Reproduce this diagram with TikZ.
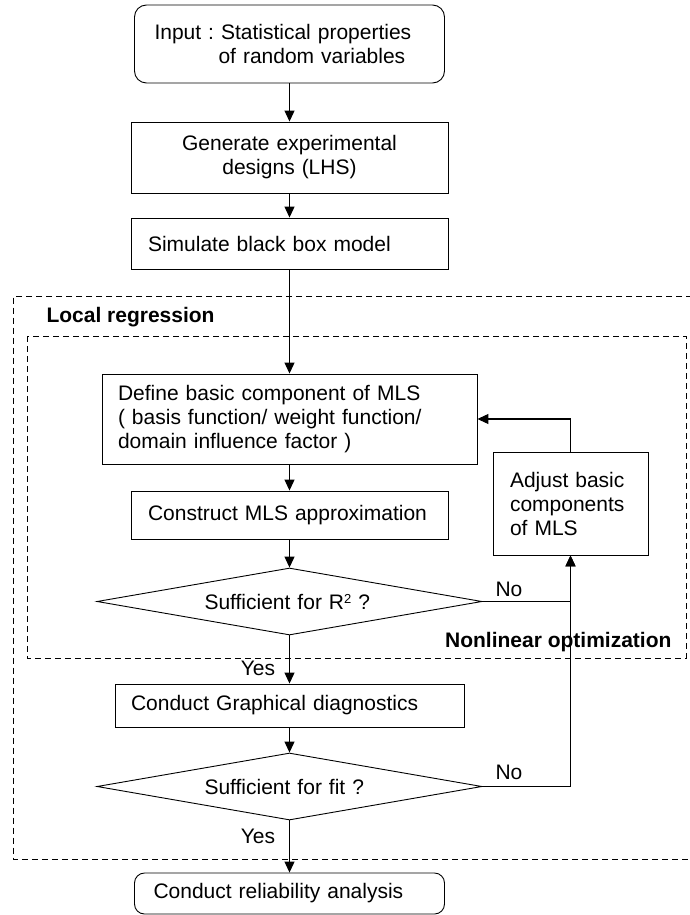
\documentclass[tikz,border=0pt]{standalone}
\usepackage{fontspec}
\setmainfont{Liberation Sans}
\usetikzlibrary{shapes.geometric,arrows.meta}
\frenchspacing
\begin{document}
\frenchspacing
\begin{tikzpicture}[x=1pt,y=-1pt,
  font=\fontsize{21}{24}\selectfont,
  procbox/.style={draw, line width=0.9pt, inner ysep=0pt, align=left},
  decision/.style={diamond, draw, line width=0.9pt, aspect=5.75, minimum width=385pt,
    minimum height=67pt, inner sep=0pt, text width=170pt, align=left},
  arr/.style={line width=1.1pt, -{Triangle[length=11pt,width=10pt]}},
  dashbox/.style={line width=0.9pt, dash pattern=on 6pt off 4pt},
  boldlabel/.style={font={\fontsize{21}{24}\selectfont\bfseries}}]
\useasboundingbox (0,0) rectangle (690,915);

% dashed regions
\draw[dashbox] (692,296) -- (13.5,296) -- (13.5,859) -- (692,859);
\draw[dashbox] (27,336) rectangle (686,658);
\node[boldlabel, anchor=west] (lr) at (43,317) {Local regression};

% main column
\node[procbox, rounded corners=12pt, text width=270pt, inner xsep=20pt, minimum height=78pt] (input) at (289.5,44)
  {Input : Statistical properties\\\hspace*{64pt}of random variables};
\node[procbox, align=center, text width=283pt, inner xsep=17pt, minimum height=71pt] (gen) at (289.5,157.5)
  {Generate experimental\\designs (LHS)};
\node[procbox, text width=283pt, inner xsep=17pt, minimum height=51pt] (sim) at (289.5,243.5)
  {Simulate black box model};
\node[procbox, text width=343pt, inner xsep=16pt, minimum height=90pt] (define) at (289.5,419)
  {Define basic component of MLS\\( basis function/ weight function/\\domain influence factor )};
\node[procbox, text width=283pt, inner xsep=17pt, minimum height=48pt] (cons) at (289.5,515)
  {Construct MLS approximation};
\node[decision] (d1) at (289.5,601.5) {Sufficient for R\raisebox{6pt}{\fontsize{13}{13}\selectfont 2} ?};
\node[procbox, text width=121pt, inner xsep=17pt, minimum height=103pt] (adj) at (570.5,503.5)
  {Adjust basic\\components\\of MLS};
\node[procbox, text width=317pt, inner xsep=16pt, minimum height=43pt] (graph) at (289.5,705.5)
  {Conduct Graphical diagnostics};
\node[decision] (d2) at (289.5,786.5) {Sufficient for fit ?};
\node[procbox, rounded corners=10pt, text width=272pt, inner xsep=19pt, minimum height=41pt] (rel) at (289.5,893.5)
  {Conduct reliability analysis};

% labels
\node[boldlabel, anchor=east] (nlo) at (675,642) {Nonlinear optimization};
\node (yes1) at (258,668) {Yes};
\node (yes2) at (258,836) {Yes};
\node (no1) at (509,589) {No};
\node (no2) at (509,772) {No};

% connectors
\draw[arr] (input) -- (gen);
\draw[arr] (gen) -- (sim);
\draw[arr] (sim) -- (define);
\draw[arr] (define) -- (cons);
\draw[arr] (cons) -- (d1);
\draw[arr] (d1) -- (graph);
\draw[arr] (graph) -- (d2);
\draw[arr] (d2) -- (rel);
\draw[arr] (d1.east) -| (adj.south);
\draw[arr] (d2.east) -| (adj.south);
\draw[arr] (adj.north) |- (define.east);
\end{tikzpicture}
\end{document}
